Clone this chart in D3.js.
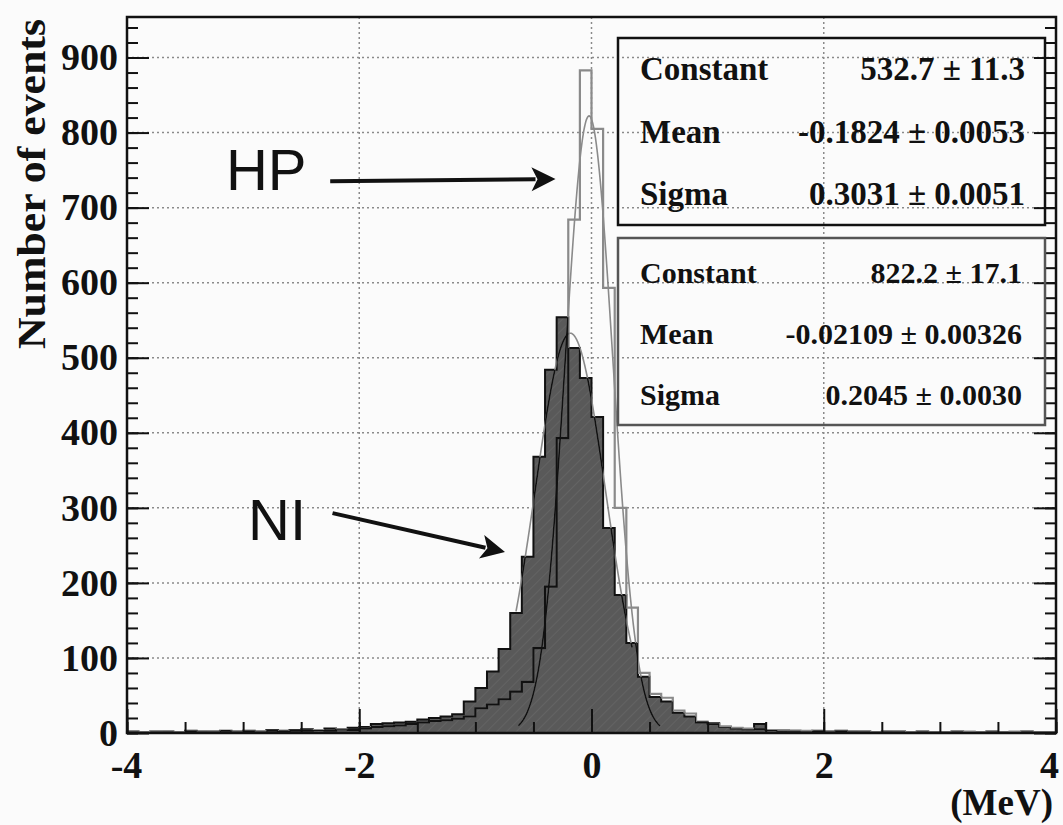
<!DOCTYPE html>
<html>
<head>
<meta charset="utf-8">
<style>
body{margin:0;background:#fbfbfb;}
svg{display:block;}
.tick text{font-family:"Liberation Serif","Times New Roman",serif;font-weight:bold;fill:#111;}
.tick line{stroke:#111;stroke-width:2;}
.domain{display:none;}
</style>
</head>
<body>
<svg id="svg"></svg>
<script src="https://cdnjs.cloudflare.com/ajax/libs/d3/7.8.5/d3.min.js"></script>
<script>
// histogram bins: 0.1 MeV wide starting at -4 MeV
var binStart = -4, binWidth = 0.1;
// NI (filled, dark)
var niCounts = [2,1,2,2,1,3,2,2,3,2,
  3,2,4,3,4,5,4,6,5,7,
  8,12,13,14,15,18,20,22,25,42,
  60,82,112,160,235,368,484,554,513,473,
  421,273,184,120,75,48,42,27,22,15,
  13,8,6,5,12,4,3,3,2,3,
  2,3,2,2,1,2,2,1,2,1,
  1,2,1,1,2,1,1,2,1,1];
// HP (open, grey line)
var hpCounts = [1,1,2,1,1,2,1,2,1,2,
  2,2,3,2,3,3,4,3,5,4,
  6,8,9,10,12,14,16,17,19,22,
  33,38,45,55,68,113,195,393,684,883,
  805,593,300,167,80,52,47,30,26,14,
  12,9,7,6,5,4,4,3,3,2,
  2,2,1,2,1,1,2,1,1,1,
  1,1,2,1,1,1,2,1,1,1];
// gaussian fits: constant, mean, sigma
var niFit = [532.7, -0.1824, 0.3031];
var hpFit = [822.2, -0.02109, 0.2045];
var niFitRange = [-0.65, 0.35];
var hpFitRange = [-0.63, 0.59];
var statNames = ['Constant', 'Mean', 'Sigma'];
var niStats = ['532.7 \u00b1 11.3', '-0.1824 \u00b1 0.0053', '0.3031 \u00b1 0.0051'];
var hpStats = ['822.2 \u00b1 17.1', '-0.02109 \u00b1 0.00326', '0.2045 \u00b1 0.0030'];
var xTicks = [-4, -2, 0, 2, 4];
var xMinor = d3.range(-4, 4.001, 0.5);
var yTicks = [0,100,200,300,400,500,600,700,800,900];
var yMinor = d3.range(0, 941, 20);
// annotations in data coords: [x1,y1,x2,y2]
var hpArrow = [-2.25, 735, -0.31, 738];
var niArrow = [-2.23, 293, -0.745, 241];

var W = 1063, H = 825;
var pL = 127, pR = 1056, pT = 17, pB = 733;
var x = d3.scaleLinear().domain([-4, 4]).range([pL, pR]);
var y = d3.scaleLinear().domain([0, 954]).range([pB, pT]);

var svg = d3.select('#svg').attr('width', W).attr('height', H);
svg.append('rect').attr('width', W).attr('height', H).attr('fill', '#fbfbfb');

var defs = svg.append('defs');
var pat = defs.append('pattern').attr('id', 'hatch').attr('width', 7).attr('height', 7)
  .attr('patternUnits', 'userSpaceOnUse').attr('patternTransform', 'rotate(45)');
pat.append('rect').attr('width', 7).attr('height', 7).attr('fill', '#595959');
pat.append('line').attr('x1', 0).attr('y1', 0).attr('x2', 0).attr('y2', 7)
  .attr('stroke', '#636363').attr('stroke-width', 2);

function steps(counts) {
  var pts = [[binStart, 0]];
  counts.forEach(function(c, i) {
    var x0 = binStart + i * binWidth;
    pts.push([x0, c], [x0 + binWidth, c]);
  });
  pts.push([binStart + counts.length * binWidth, 0]);
  return pts;
}
function gaus(p, r) {
  return d3.range(r[0], r[1] + 0.0001, 0.005).map(function(v) {
    return [v, p[0] * Math.exp(-0.5 * Math.pow((v - p[1]) / p[2], 2))];
  });
}
var line = d3.line().x(function(d) { return x(d[0]); }).y(function(d) { return y(d[1]); });
var area = d3.area().x(function(d) { return x(d[0]); }).y0(y(0)).y1(function(d) { return y(d[1]); });

// grid
var grid = svg.append('g').attr('stroke', '#8a8a8a').attr('stroke-width', 1.5).attr('stroke-dasharray', '2,3');
grid.selectAll('.hg').data(yTicks.slice(1)).enter().append('line')
  .attr('x1', pL).attr('x2', pR).attr('y1', function(d) { return y(d); }).attr('y2', function(d) { return y(d); });
grid.selectAll('.vg').data([-2, 0, 2]).enter().append('line')
  .attr('y1', pT).attr('y2', pB).attr('x1', function(d) { return x(d); }).attr('x2', function(d) { return x(d); });

var niPts = steps(niCounts), hpPts = steps(hpCounts);
defs.append('clipPath').attr('id', 'niClip').append('path').attr('d', area(niPts));

svg.append('path').attr('d', area(niPts)).attr('fill', 'url(#hatch)');
svg.append('path').attr('d', line(niPts)).attr('fill', 'none').attr('stroke', '#111').attr('stroke-width', 2);

function drawLines(g, col) {
  g.append('path').attr('d', line(hpPts)).attr('fill', 'none').attr('stroke', col).attr('stroke-width', 2.2);
  g.append('path').attr('d', line(gaus(niFit, niFitRange))).attr('fill', 'none').attr('stroke', col).attr('stroke-width', 1.6);
  g.append('path').attr('d', line(gaus(hpFit, hpFitRange))).attr('fill', 'none').attr('stroke', col).attr('stroke-width', 1.6);
}
drawLines(svg.append('g'), '#8a8a8a');
drawLines(svg.append('g').attr('clip-path', 'url(#niClip)'), '#111');

// axes
svg.append('g').attr('transform', 'translate(' + pL + ',0)')
  .call(d3.axisLeft(y).tickValues(yTicks).tickSize(-22).tickPadding(9))
  .selectAll('text').style('font-size', '38px');
svg.append('g').attr('transform', 'translate(' + pL + ',0)')
  .call(d3.axisLeft(y).tickValues(yMinor).tickSize(-11).tickFormat(''));
svg.append('g').attr('transform', 'translate(' + pR + ',0)')
  .call(d3.axisRight(y).tickValues(yTicks).tickSize(-22).tickFormat(''));
svg.append('g').attr('transform', 'translate(' + pR + ',0)')
  .call(d3.axisRight(y).tickValues(yMinor).tickSize(-11).tickFormat(''));
var xAx = svg.append('g').attr('transform', 'translate(0,' + pB + ')')
  .call(d3.axisBottom(x).tickValues(xTicks).tickSize(-24).tickPadding(18).tickFormat(d3.format('d')));
xAx.selectAll('text').style('font-size', '38px')
  .attr('dx', function(d) { return d === 4 ? -7 : (d === -4 ? -1 : 0); });
svg.append('g').attr('transform', 'translate(0,' + pB + ')')
  .call(d3.axisBottom(x).tickValues(xMinor).tickSize(-11).tickFormat(''));
svg.selectAll('.tick text').text(function() { return this.textContent.replace('\u2212', '-'); });

// frame
svg.append('rect').attr('x', pL).attr('y', pT).attr('width', pR - pL).attr('height', pB - pT)
  .attr('fill', 'none').attr('stroke', '#111').attr('stroke-width', 2.5);

var serif = '"Liberation Serif","Times New Roman",serif';
svg.append('text').attr('transform', 'translate(45,' + (pT + 2) + ') rotate(-90)')
  .attr('text-anchor', 'end').attr('font-family', serif).attr('font-weight', 'bold')
  .attr('font-size', 41).attr('textLength', 330).attr('lengthAdjust', 'spacingAndGlyphs')
  .attr('fill', '#111').text('Number of events');
svg.append('text').attr('x', pR - 3).attr('y', 815).attr('text-anchor', 'end')
  .attr('font-family', serif).attr('font-weight', 'bold').attr('font-size', 37).attr('fill', '#111').text('(MeV)');

// stat boxes
function statBox(bx, by, bw, bh, col, rows, vals, fs, vx) {
  var g = svg.append('g');
  g.append('rect').attr('x', bx).attr('y', by).attr('width', bw).attr('height', bh)
    .attr('fill', 'none').attr('stroke', col).attr('stroke-width', 2.5);
  statNames.forEach(function(n, i) {
    g.append('text').attr('x', bx + 22).attr('y', rows[i]).attr('font-family', serif).attr('font-weight', 'bold')
      .attr('font-size', fs).attr('fill', '#111').text(n);
    g.append('text').attr('x', vx).attr('y', rows[i]).attr('text-anchor', 'end').attr('font-family', serif)
      .attr('font-weight', 'bold').attr('font-size', fs).attr('fill', '#111').text(vals[i]);
  });
}
statBox(618, 38, 427, 187, '#111', [80, 143, 205], niStats, 33, 1025);
statBox(618, 238, 427, 187, '#555', [283, 344, 405], hpStats, 30, 1022);

// labels and arrows
var sans = '"Liberation Sans",Arial,sans-serif';
svg.append('text').attr('x', x(-3.148)).attr('y', y(723)).attr('font-family', sans).attr('font-size', 58).attr('fill', '#111').text('HP');
svg.append('text').attr('x', x(-2.958)).attr('y', y(257)).attr('font-family', sans).attr('font-size', 58).attr('fill', '#111').text('NI');
function arrow(a) {
  var x1 = x(a[0]), y1 = y(a[1]), x2 = x(a[2]), y2 = y(a[3]);
  var ang = Math.atan2(y2 - y1, x2 - x1), L = 24, hw = 12;
  var bx = x2 - L * Math.cos(ang), by = y2 - L * Math.sin(ang);
  svg.append('line').attr('x1', x1).attr('y1', y1).attr('x2', bx + 4 * Math.cos(ang)).attr('y2', by + 4 * Math.sin(ang))
    .attr('stroke', '#111').attr('stroke-width', 4);
  svg.append('path').attr('fill', '#111').attr('d', 'M' + x2 + ',' + y2 +
    'L' + (bx - hw * Math.sin(ang)) + ',' + (by + hw * Math.cos(ang)) +
    'L' + (bx + 6 * Math.cos(ang)) + ',' + (by + 6 * Math.sin(ang)) +
    'L' + (bx + hw * Math.sin(ang)) + ',' + (by - hw * Math.cos(ang)) + 'Z');
}
arrow(hpArrow);
arrow(niArrow);
</script>
</body>
</html>
